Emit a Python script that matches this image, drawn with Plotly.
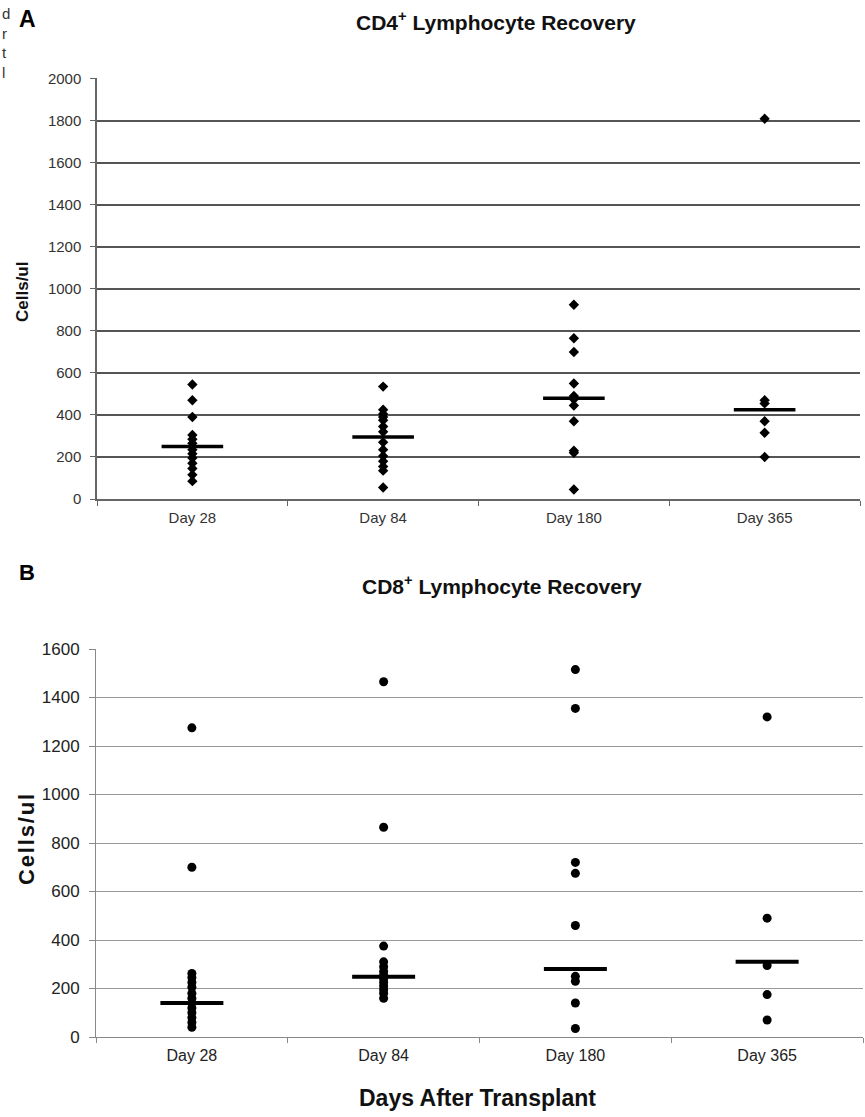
import plotly.graph_objects as go

days = ["Day 28", "Day 84", "Day 180", "Day 365"]

# Panel A: CD4+ (cells/ul)
cd4_day28 = [545, 470, 390, 305, 285, 265, 250, 235, 215, 195, 170, 145, 115, 85]
cd4_day84 = [535, 425, 405, 390, 375, 345, 320, 270, 235, 205, 180, 155, 135, 55]
cd4_day180 = [925, 765, 700, 550, 490, 475, 445, 370, 230, 220, 45]
cd4_day365 = [1810, 470, 455, 370, 315, 200]
cd4_median = [250, 295, 480, 425]

# Panel B: CD8+ (cells/ul)
cd8_day28 = [1275, 700, 262, 245, 225, 205, 180, 160, 140, 120, 100, 80, 60, 40]
cd8_day84 = [1465, 865, 375, 310, 290, 270, 255, 240, 225, 210, 195, 180, 160]
cd8_day180 = [1515, 1355, 720, 675, 460, 250, 230, 140, 35]
cd8_day365 = [1320, 490, 295, 175, 70]
cd8_median = [140, 248, 280, 310]

# cut-off letters from neighbouring text at the left page edge
edge_letters = ["d", "r", "t", "l"]

cd4_groups = [cd4_day28, cd4_day84, cd4_day180, cd4_day365]
cd8_groups = [cd8_day28, cd8_day84, cd8_day180, cd8_day365]

W, H = 865, 1117
FONT = "Liberation Sans, Arial, sans-serif"

fig = go.Figure()

# Panel A points
xa, ya = [], []
for d, g in zip(days, cd4_groups):
    xa += [d] * len(g)
    ya += g
fig.add_trace(go.Scatter(x=xa, y=ya, mode="markers", xaxis="x", yaxis="y",
                         marker=dict(symbol="diamond", size=8, color="black"),
                         showlegend=False, hoverinfo="y"))
fig.add_trace(go.Scatter(x=days, y=cd4_median, mode="markers", xaxis="x", yaxis="y",
                         marker=dict(symbol="line-ew", size=44,
                                     line=dict(width=3.5, color="black")),
                         showlegend=False, hoverinfo="y"))

# Panel B points
xb, yb = [], []
for d, g in zip(days, cd8_groups):
    xb += [d] * len(g)
    yb += g
fig.add_trace(go.Scatter(x=xb, y=yb, mode="markers", xaxis="x2", yaxis="y2",
                         marker=dict(symbol="circle", size=9, color="black"),
                         showlegend=False, hoverinfo="y"))
fig.add_trace(go.Scatter(x=days, y=cd8_median, mode="markers", xaxis="x2", yaxis="y2",
                         marker=dict(symbol="line-ew", size=45,
                                     line=dict(width=4, color="black")),
                         showlegend=False, hoverinfo="y"))

def px_x(p):
    return p / W

def px_y(p):
    return 1 - p / H

fig.update_layout(
    width=W, height=H,
    margin=dict(l=0, r=0, t=0, b=0, autoexpand=False),
    paper_bgcolor="white", plot_bgcolor="white",
    font=dict(family=FONT, color="#333333"),
    xaxis=dict(domain=[px_x(97), px_x(860)], anchor="y", type="category",
               range=[-0.5, 3.5], showline=True, linecolor="#666666", linewidth=1.5,
               ticks="outside", tickson="boundaries", ticklen=5, tickcolor="#666666",
               showgrid=False, automargin=False, ticklabelstandoff=4,
               tickfont=dict(size=15, color="#333333")),
    yaxis=dict(domain=[px_y(499), px_y(78)], anchor="x", range=[0, 2004],
               tickvals=list(range(0, 2001, 200)), showline=True,
               linecolor="#666666", linewidth=1.5, ticks="outside", ticklen=5,
               tickcolor="#666666", showgrid=True, gridcolor="#555555", gridwidth=2,
               zeroline=False, automargin=False, ticklabelstandoff=6,
               tickfont=dict(size=15, color="#333333")),
    xaxis2=dict(domain=[px_x(96), px_x(863)], anchor="y2", type="category",
                range=[-0.5, 3.5], showline=True, linecolor="#888888", linewidth=1,
                ticks="outside", tickson="boundaries", ticklen=5, tickcolor="#888888",
                showgrid=False, automargin=False, ticklabelstandoff=4,
                tickfont=dict(size=16, color="#222222")),
    yaxis2=dict(domain=[px_y(1037), px_y(649)], anchor="x2", range=[0, 1600],
                tickvals=list(range(0, 1601, 200)), showline=True,
                linecolor="#888888", linewidth=1, ticks="outside", ticklen=6,
                tickcolor="#888888", showgrid=True, gridcolor="#999999", gridwidth=1,
                zeroline=False, automargin=False, ticklabelstandoff=6,
                tickfont=dict(size=17, color="#222222")),
)

hs = "\u200a"
ann = [
    dict(text="<b>A</b>", x=px_x(17), y=px_y(19), xanchor="left", yanchor="middle",
         font=dict(size=23, color="black")),
    dict(text="<b>CD4<sup>+</sup> Lymphocyte Recovery</b>", x=px_x(496), y=px_y(21),
         xanchor="center", yanchor="middle", font=dict(size=21, color="#111111")),
    dict(text="<b>Cells/ul</b>", x=px_x(23), y=px_y(292), xanchor="center",
         yanchor="middle", textangle=-90, font=dict(size=17, color="#111111")),
    dict(text="<b>B</b>", x=px_x(17), y=px_y(572), xanchor="left", yanchor="middle",
         font=dict(size=22, color="black")),
    dict(text="<b>CD8<sup>+</sup> Lymphocyte Recovery</b>", x=px_x(502), y=px_y(585),
         xanchor="center", yanchor="middle", font=dict(size=21, color="#111111")),
    dict(text="<b>" + hs.join("Cells/ul") + "</b>", x=px_x(26), y=px_y(840),
         xanchor="center", yanchor="middle", textangle=-90,
         font=dict(size=22, color="#111111")),
    dict(text="<b>Days After Transplant</b>", x=px_x(478), y=px_y(1098),
         xanchor="center", yanchor="middle", font=dict(size=23, color="#111111")),
    dict(text="<br>".join(edge_letters), x=px_x(0), y=px_y(43), xanchor="left",
         yanchor="middle", align="left", font=dict(size=15, color="#333333")),
]
for a in ann:
    a.update(xref="paper", yref="paper", showarrow=False)
fig.update_layout(annotations=ann)

fig.write_html("out.html", config={"displayModeBar": False},
               post_script="document.body.style.margin='0';document.body.style.padding='0';")
